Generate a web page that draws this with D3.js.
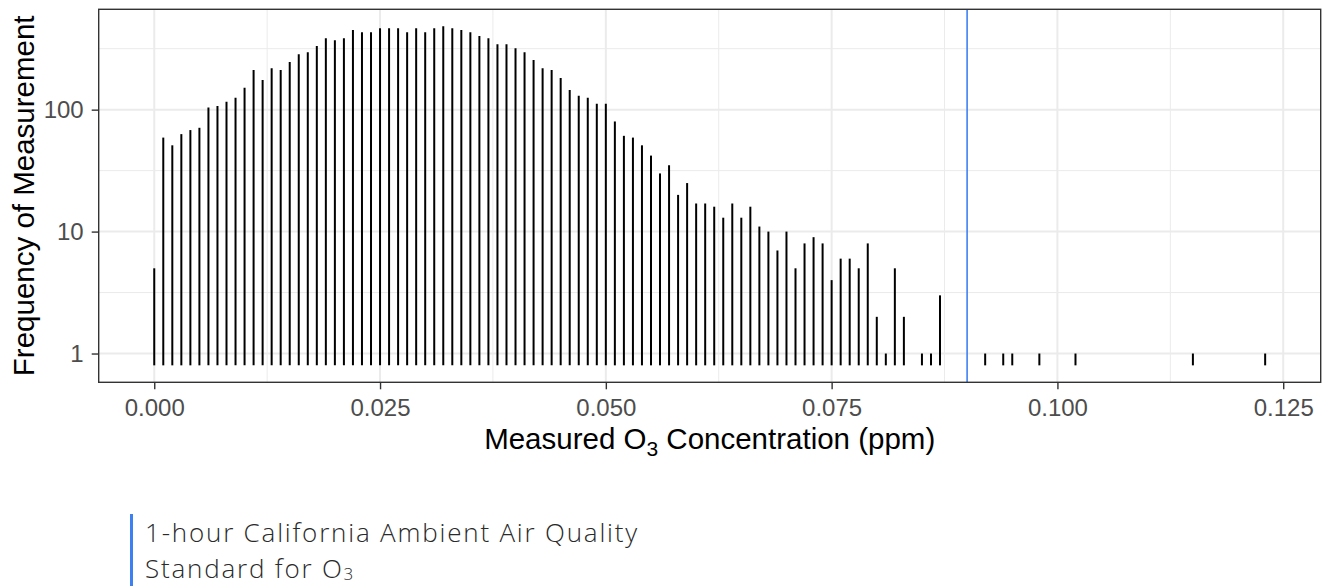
<!DOCTYPE html>
<html>
<head>
<meta charset="utf-8">
<script src="https://cdn.jsdelivr.net/npm/d3@7"></script>
<style>
  html, body { margin: 0; padding: 0; background: #ffffff; }
  svg { display: block; }
</style>
</head>
<body>
<svg id="chart" width="1328" height="586"></svg>
<script>
// Measured O3 concentration (ppm) and frequency of each measurement
const concentration = [
  0.000, 0.001, 0.002, 0.003, 0.004, 0.005, 0.006, 0.007, 0.008, 0.009,
  0.010, 0.011, 0.012, 0.013, 0.014, 0.015, 0.016, 0.017, 0.018, 0.019,
  0.020, 0.021, 0.022, 0.023, 0.024, 0.025, 0.026, 0.027, 0.028, 0.029,
  0.030, 0.031, 0.032, 0.033, 0.034, 0.035, 0.036, 0.037, 0.038, 0.039,
  0.040, 0.041, 0.042, 0.043, 0.044, 0.045, 0.046, 0.047, 0.048, 0.049,
  0.050, 0.051, 0.052, 0.053, 0.054, 0.055, 0.056, 0.057, 0.058, 0.059,
  0.060, 0.061, 0.062, 0.063, 0.064, 0.065, 0.066, 0.067, 0.068, 0.069,
  0.070, 0.071, 0.072, 0.073, 0.074, 0.075, 0.076, 0.077, 0.078, 0.079,
  0.080, 0.081, 0.082, 0.083, 0.085, 0.086, 0.087,
  0.092, 0.094, 0.095, 0.098, 0.102, 0.115, 0.123
];
const frequency = [
  5, 59, 51, 63, 68, 71, 104, 107, 116, 125,
  151, 211, 175, 219, 211, 246, 285, 296, 332, 386,
  371, 386, 449, 432, 432, 466, 466, 466, 432, 466,
  432, 466, 483, 466, 449, 432, 401, 386, 344, 344,
  319, 296, 255, 219, 211, 182, 145, 130, 125, 112,
  112, 80, 61, 59, 51, 42, 30, 35, 20, 25,
  17, 17, 16, 13, 17, 13, 16, 11, 10, 7,
  10, 5, 8, 9, 8, 4, 6, 6, 5, 8,
  2, 1, 5, 2, 1, 1, 3,
  1, 1, 1, 1, 1, 1, 1
];
const segmentBase = 0.8;              // lower end of each segment
const standardLevel = 0.09;           // 1-hour California AAQS for O3 (ppm)
const xTicks = [0, 0.025, 0.05, 0.075, 0.1, 0.125];
const xMinorTicks = [0.0125, 0.0375, 0.0625, 0.0875, 0.1125];
const yTicks = [1, 10, 100];
const yMinorTicks = [Math.sqrt(10), Math.sqrt(1000), Math.sqrt(100000)];
const xTitle = "Measured O";
const yTitle = "Frequency of Measurement";
const captionLines = ["1-hour California Ambient Air Quality", "Standard for O"];

const data = concentration.map((c, i) => ({ c, n: frequency[i] }));

const svg = d3.select("#chart");
const panel = { left: 98.7, right: 1320.7, top: 9.3, bottom: 382.3 };

// ggplot-like 5% expansion
const xMin = d3.min(concentration), xMax = d3.max(concentration);
const xPad = (xMax - xMin) * 0.05;
const x = d3.scaleLinear().domain([xMin - xPad, xMax + xPad]).range([panel.left, panel.right]);

const lMin = Math.log10(segmentBase), lMax = Math.log10(d3.max(frequency));
const lPad = (lMax - lMin) * 0.05;
const y = d3.scaleLog().domain([Math.pow(10, lMin - lPad), Math.pow(10, lMax + lPad)]).range([panel.bottom, panel.top]);

const g = svg.append("g");

g.append("rect").attr("x", panel.left).attr("y", panel.top)
  .attr("width", panel.right - panel.left).attr("height", panel.bottom - panel.top)
  .attr("fill", "#ffffff");

// minor grid
g.selectAll(".xminor").data(xMinorTicks).join("line")
  .attr("x1", d => x(d)).attr("x2", d => x(d)).attr("y1", panel.top).attr("y2", panel.bottom)
  .attr("stroke", "#EBEBEB").attr("stroke-width", 1);
g.selectAll(".yminor").data(yMinorTicks.filter(v => v > y.domain()[0] && v < y.domain()[1])).join("line")
  .attr("x1", panel.left).attr("x2", panel.right).attr("y1", d => y(d)).attr("y2", d => y(d))
  .attr("stroke", "#EBEBEB").attr("stroke-width", 1);
// major grid
g.selectAll(".xmajor").data(xTicks).join("line")
  .attr("x1", d => x(d)).attr("x2", d => x(d)).attr("y1", panel.top).attr("y2", panel.bottom)
  .attr("stroke", "#EBEBEB").attr("stroke-width", 2);
g.selectAll(".ymajor").data(yTicks).join("line")
  .attr("x1", panel.left).attr("x2", panel.right).attr("y1", d => y(d)).attr("y2", d => y(d))
  .attr("stroke", "#EBEBEB").attr("stroke-width", 2);

// segments
g.selectAll(".seg").data(data).join("line")
  .attr("x1", d => x(d.c)).attr("x2", d => x(d.c))
  .attr("y1", y(segmentBase)).attr("y2", d => y(d.n))
  .attr("stroke", "#000000").attr("stroke-width", 2);

// standard line
g.append("line")
  .attr("x1", x(standardLevel)).attr("x2", x(standardLevel))
  .attr("y1", panel.top).attr("y2", panel.bottom)
  .attr("stroke", "#3D80F2").attr("stroke-width", 1.6);

// panel border
g.append("rect").attr("x", panel.left).attr("y", panel.top)
  .attr("width", panel.right - panel.left).attr("height", panel.bottom - panel.top)
  .attr("fill", "none").attr("stroke", "#333333").attr("stroke-width", 1.4);

// axes
const fmtX = d3.format(".3f");
const xAxis = d3.axisBottom(x).tickValues(xTicks).tickFormat(fmtX).tickSize(7).tickPadding(10);
const xg = svg.append("g").attr("transform", `translate(0,${panel.bottom})`).call(xAxis);
xg.select(".domain").remove();
xg.selectAll(".tick line").attr("stroke", "#333333").attr("stroke-width", 1.4);
xg.selectAll(".tick text").attr("fill", "#4D4D4D")
  .style("font-family", "'Liberation Sans', Arial, sans-serif").style("font-size", "24px");

const yAxis = d3.axisLeft(y).tickValues(yTicks).tickFormat(d3.format("d")).tickSize(7).tickPadding(8);
const yg = svg.append("g").attr("transform", `translate(${panel.left},0)`).call(yAxis);
yg.select(".domain").remove();
yg.selectAll(".tick line").attr("stroke", "#333333").attr("stroke-width", 1.4);
yg.selectAll(".tick text").attr("fill", "#4D4D4D")
  .style("font-family", "'Liberation Sans', Arial, sans-serif").style("font-size", "24px");

// axis titles
const xt = svg.append("text")
  .attr("x", (panel.left + panel.right) / 2).attr("y", 449)
  .attr("text-anchor", "middle").attr("fill", "#000000")
  .style("font-family", "'Liberation Sans', Arial, sans-serif").style("font-size", "29.5px");
xt.append("tspan").text(xTitle);
xt.append("tspan").attr("dy", 7).style("font-size", "21px").text("3");
xt.append("tspan").attr("dy", -7).text(" Concentration (ppm)");

svg.append("text")
  .attr("transform", `translate(34,${(panel.top + panel.bottom) / 2}) rotate(-90)`)
  .attr("text-anchor", "middle").attr("fill", "#000000")
  .style("font-family", "'Liberation Sans', Arial, sans-serif").style("font-size", "29.5px")
  .text(yTitle);

// caption
svg.append("rect").attr("x", 130).attr("y", 514).attr("width", 3).attr("height", 72)
  .attr("fill", "#3D80F2");
const cap = svg.append("g")
  .style("font-family", "'Open Sans', 'Noto Sans', sans-serif").style("font-weight", 300)
  .style("font-size", "26px").style("letter-spacing", "1.8px").attr("fill", "#2a2a2a");
cap.append("text").attr("x", 145).attr("y", 542).text(captionLines[0]);
const cap2 = cap.append("text").attr("x", 145).attr("y", 578);
cap2.append("tspan").text(captionLines[1]);
cap2.append("tspan").attr("dy", 2).style("font-size", "17px").text("3");
</script>
</body>
</html>
